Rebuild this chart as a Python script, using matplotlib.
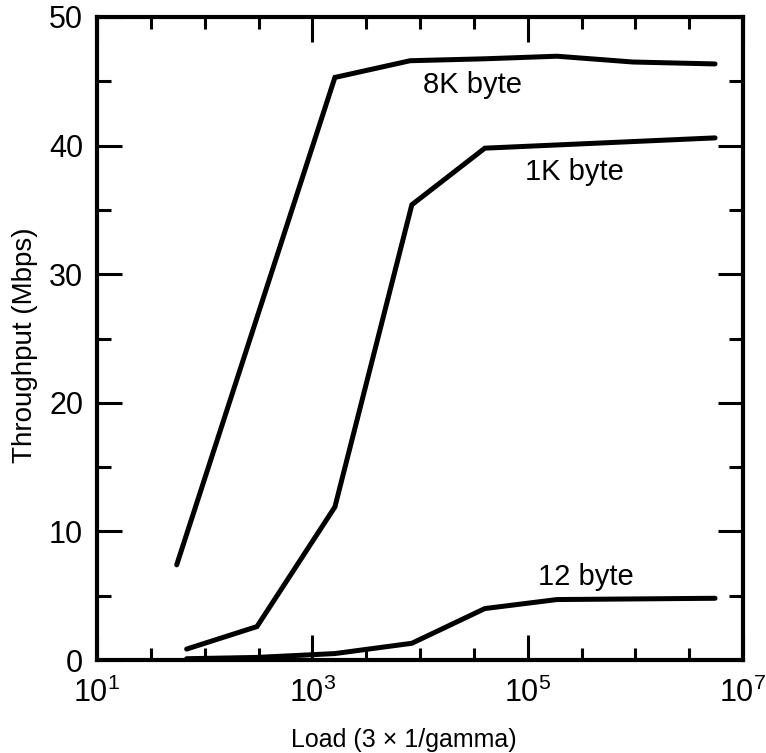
import matplotlib
matplotlib.use("Agg")
import matplotlib.pyplot as plt
from matplotlib.ticker import FixedLocator, FixedFormatter, MultipleLocator, NullFormatter

plt.rcParams['font.family'] = ['Liberation Sans', 'DejaVu Sans']
plt.rcParams['mathtext.default'] = 'regular'

# Throughput vs. load for three packet sizes
load_8k = [55, 1620, 8100, 40000, 187000, 950000, 5500000]
thr_8k = [7.4, 45.3, 46.6, 46.75, 46.95, 46.5, 46.35]

load_1k = [68, 306, 1620, 8400, 40000, 5500000]
thr_1k = [0.85, 2.6, 11.9, 35.4, 39.8, 40.6]

load_12 = [68, 306, 1620, 8400, 40000, 187000, 5500000]
thr_12 = [0.1, 0.2, 0.5, 1.3, 4.0, 4.7, 4.8]

series_names = ["8K byte", "1K byte", "12 byte"]
label_load = [10700, 94400, 125000]
label_thr = [44.1, 37.3, 5.83]

x_major = [1e1, 1e3, 1e5, 1e7]
x_major_labels = ["$10^1$", "$10^3$", "$10^5$", "$10^7$"]

fig = plt.figure(figsize=(7.66, 7.53), dpi=100)
ax = fig.add_axes([97 / 766, 1 - 660 / 753, 646 / 766, 643 / 753])

for xs, ys in [(load_8k, thr_8k), (load_1k, thr_1k), (load_12, thr_12)]:
    ax.plot(xs, ys, color='black', lw=3.6, solid_joinstyle='miter',
            solid_capstyle='round')

for name, lx, ly in zip(series_names, label_load, label_thr):
    ax.text(lx, ly, name, fontsize=21, ha='left', va='baseline')

ax.set_xscale('log')
ax.set_xlim(1e1, 1e7)
ax.set_ylim(0, 50)

ax.xaxis.set_major_locator(FixedLocator(x_major))
ax.xaxis.set_major_formatter(FixedFormatter(x_major_labels))
ax.xaxis.set_minor_locator(FixedLocator(
    [10 ** (k / 2) for k in range(2, 15) if (k - 2) % 4 != 0]))
ax.xaxis.set_minor_formatter(NullFormatter())

ax.yaxis.set_major_locator(MultipleLocator(10))
ax.yaxis.set_minor_locator(MultipleLocator(5))

ax.tick_params(which='both', direction='in', top=True, right=True,
               width=2.2, colors='black')
ax.tick_params(axis='x', which='major', length=18, pad=13, labelsize=22)
ax.tick_params(axis='x', which='minor', length=8.6)
ax.tick_params(axis='y', which='major', length=18, pad=10, labelsize=22)
ax.tick_params(axis='y', which='minor', length=10)

for sp in ax.spines.values():
    sp.set_linewidth(3)

ax.set_xlabel("Load (3 × 1/gamma)", fontsize=18)
ax.set_ylabel("Throughput (Mbps)", fontsize=20)
ax.xaxis.set_label_coords(0.475, -0.105)
ax.yaxis.set_label_coords(-0.091, 0.49)

fig.savefig("out.png", dpi=100)
